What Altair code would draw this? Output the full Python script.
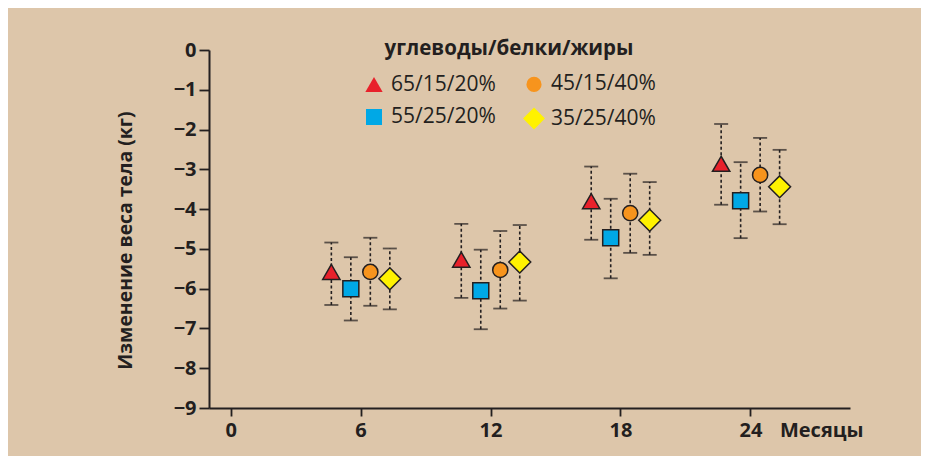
import altair as alt
import pandas as pd

groups = ["65/15/20%", "55/25/20%", "45/15/40%", "35/25/40%"]
shapes = ["triangle-up", "square", "circle", "diamond"]
fills = ["#e8212b", "#00a8e6", "#f7941d", "#fff200"]
sizes = [300, 256, 230, 480]

months = [6, 12, 18, 24]
mean_65 = [-5.58, -5.27, -3.80, -2.86]
lo_65 = [-6.41, -6.23, -4.77, -3.89]
hi_65 = [-4.84, -4.37, -2.93, -1.86]

mean_55 = [-6.00, -6.05, -4.72, -3.79]
lo_55 = [-6.80, -7.02, -5.74, -4.73]
hi_55 = [-5.21, -5.02, -3.74, -2.82]

mean_45 = [-5.58, -5.53, -4.10, -3.14]
lo_45 = [-6.43, -6.50, -5.10, -4.06]
hi_45 = [-4.72, -4.55, -3.11, -2.21]

mean_35 = [-5.75, -5.33, -4.28, -3.44]
lo_35 = [-6.52, -6.30, -5.15, -4.38]
hi_35 = [-4.99, -4.40, -3.32, -2.51]

series = {
    "65/15/20%": (mean_65, lo_65, hi_65),
    "55/25/20%": (mean_55, lo_55, hi_55),
    "45/15/40%": (mean_45, lo_45, hi_45),
    "35/25/40%": (mean_35, lo_35, hi_35),
}
rows = []
for g, (m, lo, hi) in series.items():
    for i, mo in enumerate(months):
        rows.append({"group": g, "month": mo, "mean": m[i], "lo": lo[i], "hi": hi[i]})
df = pd.DataFrame(rows)

DARK = "#231f20"
FONT = "Open Sans"

base = alt.Chart(df).transform_calculate(
    xpos="datum.month + indexof(%s, datum.group) * 0.9 - 1.35" % str(groups)
)

xscale = alt.Scale(domain=[-1, 28.6], nice=False, zero=False)
yscale = alt.Scale(domain=[-9, 0], nice=False)

xaxis = alt.Axis(
    values=[0, 6, 12, 18, 24], format="d", title="Месяцы", grid=False,
    tickSize=8, labelPadding=4, titleX=654, titleY=12, titleAlign="right",
    titleBaseline="top", titleAnchor="start", labelOverlap=False,
)
yaxis = alt.Axis(
    values=[-9, -8, -7, -6, -5, -4, -3, -2, -1, 0], format="d",
    title="Изменение веса тела (кг)", grid=False,
    tickSize=10, labelPadding=3, titleX=-84, titleY=190, titleAngle=270,
    titleAlign="center", titleBaseline="middle", titleAnchor="middle",
    labelOverlap=False, titleFontSize=19.4,
)

x = alt.X("xpos:Q", scale=xscale, axis=xaxis)

rules = base.mark_rule(color=DARK, strokeWidth=1.6, strokeDash=[3, 2.5]).encode(
    x=x,
    y=alt.Y("lo:Q", scale=yscale, axis=yaxis),
    y2="hi:Q",
)

caps = base.transform_fold(["lo", "hi"], as_=["end", "val"]).mark_tick(
    orient="horizontal", size=14, thickness=1.8, color=DARK
).encode(
    x=x,
    y=alt.Y("val:Q", scale=yscale, axis=yaxis),
)

legend = alt.Legend(
    title="углеводы/белки/жиры", orient="none", legendX=153, legendY=-11,
    columns=2, columnPadding=24, rowPadding=9, titlePadding=14,
    titleAnchor="middle", labelFontSize=21, titleFontSize=20.5, titleLimit=500,
    labelLimit=300,
    labelFont=FONT, titleFont=FONT, titleFontWeight="bold", labelColor=DARK,
    titleColor=DARK, labelOffset=5, symbolStrokeColor=DARK, symbolStrokeWidth=1.5,
)

points = base.mark_point(filled=True, opacity=1, stroke=DARK, strokeWidth=1.5).encode(
    x=x,
    y=alt.Y("mean:Q", scale=yscale, axis=yaxis),
    fill=alt.Fill("group:N", scale=alt.Scale(domain=groups, range=fills), legend=legend),
    shape=alt.Shape("group:N", scale=alt.Scale(domain=groups, range=shapes), legend=legend),
    size=alt.Size("group:N", scale=alt.Scale(type="ordinal", domain=groups, range=sizes), legend=legend),
)

chart = alt.layer(rules, caps, points).properties(
    width=641, height=358,
    autosize=alt.AutoSizeParams(type="none"),
    padding={"left": 201, "top": 42, "right": 71, "bottom": 48},
    background="#ddc6aa",
).configure_view(stroke=None).configure_axis(
    domainColor=DARK, domainWidth=2, tickColor=DARK, tickWidth=1.8,
    labelFont=FONT, labelFontSize=20, labelFontWeight="bold", labelColor=DARK,
    titleFont=FONT, titleFontSize=20, titleFontWeight="bold", titleColor=DARK,
    labelOverlap=False,
)

chart.save("out.html", embed_options={"renderer": "svg", "actions": False})
